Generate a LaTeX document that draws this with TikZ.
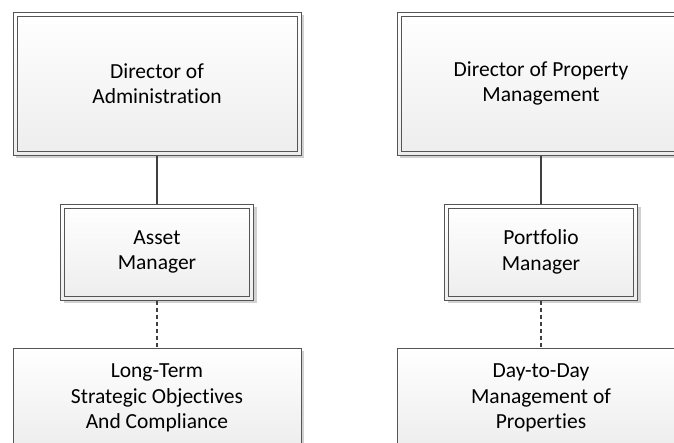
\documentclass[tikz,border=0pt]{standalone}
\usepackage{fontspec}
\setmainfont[Ligatures={NoCommon,TeX}]{Carlito}
\usetikzlibrary{shadows}
\definecolor{bordc}{HTML}{555555}
\definecolor{linec}{HTML}{404040}
\tikzset{
  box/.style={draw=bordc, line width=1pt, top color=white, bottom color=black!7,
    drop shadow={shadow xshift=3pt, shadow yshift=-3pt, fill=black!18, opacity=1},
    align=center, inner sep=0pt, font=\fontsize{21.5pt}{25.5pt}\selectfont, text=black},
  inner/.style={draw=bordc, line width=1pt},
  solidc/.style={draw=linec, line width=2pt},
  dotc/.style={draw=linec, line width=2.2pt, dash pattern=on 4pt off 3pt}
}
\begin{document}
\begin{tikzpicture}[x=1pt,y=-1pt]
\useasboundingbox (0,0) rectangle (674,442);
% left column
\node[box, minimum width=288pt, minimum height=143pt] (da) at (157,83.5) {Director of\\Administration};
\draw[inner] ([shift={(4.5pt,-4.5pt)}]da.north west) rectangle ([shift={(-4.5pt,4.5pt)}]da.south east);
\node[box, minimum width=193pt, minimum height=96pt] (am) at (157,252) {Asset\\Manager};
\draw[inner] ([shift={(4.5pt,-4.5pt)}]am.north west) rectangle ([shift={(-4.5pt,4.5pt)}]am.south east);
\node[box, minimum width=288pt, minimum height=100pt] (lt) at (157,398) {Long-Term\\Strategic Objectives\\And Compliance};
% right column
\node[box, minimum width=288pt, minimum height=143pt] (dp) at (541,83.5) {Director of Property\\Management};
\draw[inner] ([shift={(4.5pt,-4.5pt)}]dp.north west) rectangle ([shift={(-4.5pt,4.5pt)}]dp.south east);
\node[box, minimum width=193pt, minimum height=96pt] (pm) at (541,252) {Portfolio\\Manager};
\draw[inner] ([shift={(4.5pt,-4.5pt)}]pm.north west) rectangle ([shift={(-4.5pt,4.5pt)}]pm.south east);
\node[box, minimum width=288pt, minimum height=100pt] (dd) at (541,398) {Day-to-Day\\Management of\\Properties};
% connectors
\draw[solidc] (da.south) -- (am.north);
\draw[dotc] (am.south) -- (lt.north);
\draw[solidc] (dp.south) -- (pm.north);
\draw[dotc] (pm.south) -- (dd.north);
\end{tikzpicture}
\end{document}
